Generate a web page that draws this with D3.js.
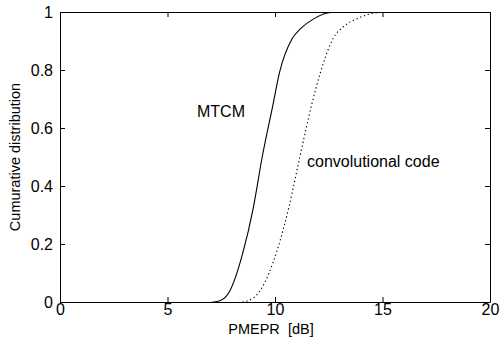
<!DOCTYPE html>
<html>
<head>
<meta charset="utf-8">
<script src="https://cdn.jsdelivr.net/npm/d3@7"></script>
<style>
  body { margin: 0; background: #fff; }
  svg { display: block; font-family: "Liberation Sans", Arial, Helvetica, sans-serif; }
</style>
</head>
<body>
<div id="chart"></div>
<script>
// values
const pmeprMtcm = [7.0, 7.4, 7.9, 8.5, 9.0, 9.4, 9.9, 10.2, 10.8, 11.2, 11.8, 12.6, 13.5];
const cdfMtcm   = [0, 0.005, 0.04, 0.17, 0.33, 0.5, 0.68, 0.79, 0.91, 0.945, 0.978, 1, 1];

const pmeprConv = [8.3, 8.7, 9.3, 10.1, 10.65, 11.15, 11.7, 12.1, 12.7, 13.25, 13.8, 14.9, 15.5];
const cdfConv   = [0, 0.005, 0.04, 0.18, 0.33, 0.5, 0.68, 0.79, 0.91, 0.955, 0.978, 1, 1];

const xTicks = [0, 5, 10, 15, 20];
const yTicks = [0, 0.2, 0.4, 0.6, 0.8, 1];

const w = 501;
const h = 349;
const margin = { top: 12, right: 11, bottom: 47, left: 60 };
const iw = w - margin.left - margin.right;
const ih = h - margin.top - margin.bottom;

const svg = d3.select("#chart")
    .append("svg")
    .attr("width", w)
    .attr("height", h);

const g = svg.append("g")
    .attr("transform", `translate(${margin.left},${margin.top})`);

const x = d3.scaleLinear().domain([0, 20]).range([0, iw]);
const y = d3.scaleLinear().domain([0, 1]).range([ih, 0]);

const line = d3.line()
    .x(d => x(d[0]))
    .y(d => y(d[1]) + 0.5)
    .curve(d3.curveMonotoneX);

g.append("path")
    .datum(pmeprMtcm.map((v, i) => [v, cdfMtcm[i]]))
    .attr("fill", "none")
    .attr("stroke", "#000")
    .attr("stroke-width", 1.1)
    .attr("d", line);

g.append("path")
    .datum(pmeprConv.map((v, i) => [v, cdfConv[i]]))
    .attr("fill", "none")
    .attr("stroke", "#000")
    .attr("stroke-width", 1.1)
    .attr("stroke-dasharray", "1.3,2.7")
    .attr("d", line);

// axes, ticks pointing inward on all four sides
const styleAxis = sel => {
    sel.selectAll("path, line").attr("stroke", "#000").attr("stroke-width", 1);
    sel.selectAll("text").attr("fill", "#000").style("font-size", "16px");
};

g.append("g")
    .attr("transform", `translate(0,${ih})`)
    .call(d3.axisBottom(x).tickValues(xTicks).tickSizeInner(-5).tickSizeOuter(0).tickPadding(2))
    .call(styleAxis);

g.append("g")
    .call(d3.axisLeft(y).tickValues(yTicks).tickFormat(d3.format("~g")).tickSizeInner(-5).tickSizeOuter(0).tickPadding(7))
    .call(styleAxis);

g.append("g")
    .call(d3.axisTop(x).tickValues(xTicks).tickFormat("").tickSizeInner(-5).tickSizeOuter(0))
    .call(styleAxis);

g.append("g")
    .attr("transform", `translate(${iw},0)`)
    .call(d3.axisRight(y).tickValues(yTicks).tickFormat("").tickSizeInner(-5).tickSizeOuter(0))
    .call(styleAxis);

// axis titles
svg.append("text")
    .attr("x", 271)
    .attr("y", 334)
    .attr("text-anchor", "middle")
    .style("font-size", "14.5px")
    .style("white-space", "pre")
    .text("PMEPR  [dB]");

svg.append("text")
    .attr("transform", "translate(20,157) rotate(-90)")
    .attr("text-anchor", "middle")
    .style("font-size", "14.5px")
    .text("Cumurative distribution");

// curve labels
svg.append("text")
    .attr("x", 197)
    .attr("y", 117)
    .style("font-size", "16px")
    .text("MTCM");

svg.append("text")
    .attr("x", 307)
    .attr("y", 167)
    .style("font-size", "16px")
    .text("convolutional code");
</script>
</body>
</html>
